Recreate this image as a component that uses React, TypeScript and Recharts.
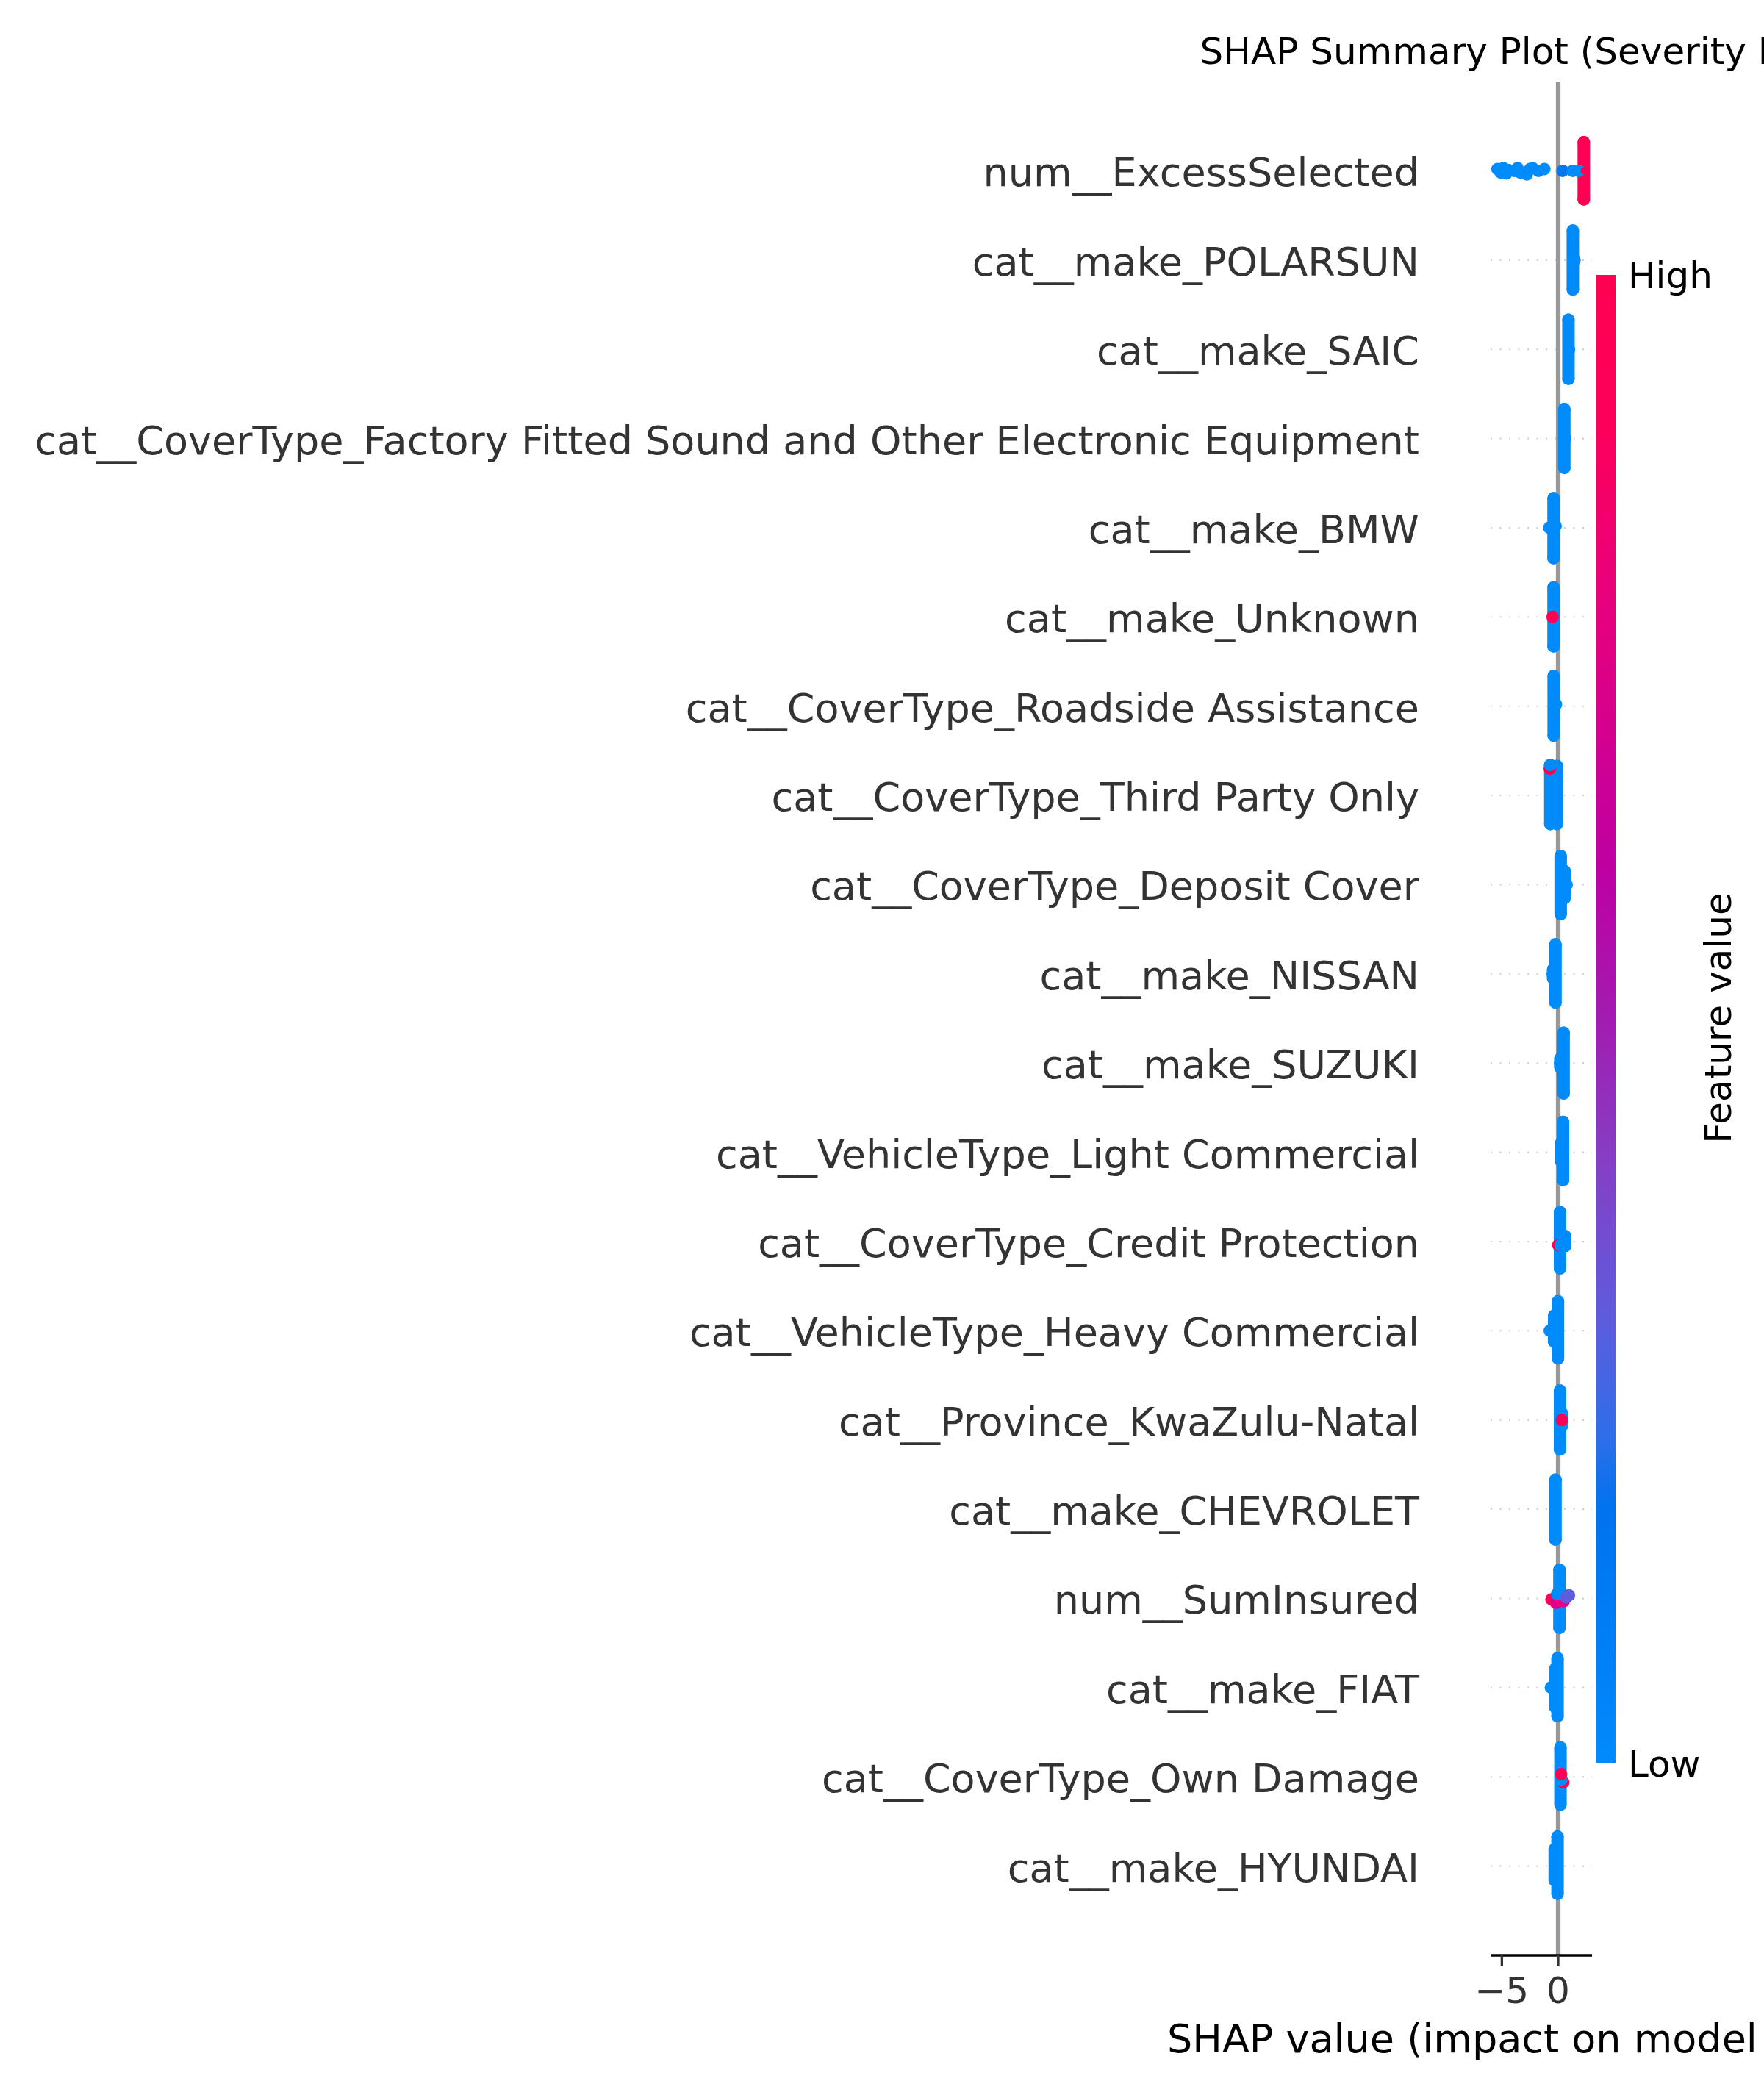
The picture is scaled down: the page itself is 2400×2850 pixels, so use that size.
import React from "react";
import { ScatterChart, Scatter, XAxis, YAxis, ReferenceLine, ErrorBar } from "recharts";

const features = [
  "num__ExcessSelected",
  "cat__make_POLARSUN",
  "cat__make_SAIC",
  "cat__CoverType_Factory Fitted Sound and Other Electronic Equipment",
  "cat__make_BMW",
  "cat__make_Unknown",
  "cat__CoverType_Roadside Assistance",
  "cat__CoverType_Third Party Only",
  "cat__CoverType_Deposit Cover",
  "cat__make_NISSAN",
  "cat__make_SUZUKI",
  "cat__VehicleType_Light Commercial",
  "cat__CoverType_Credit Protection",
  "cat__VehicleType_Heavy Commercial",
  "cat__Province_KwaZulu-Natal",
  "cat__make_CHEVROLET",
  "num__SumInsured",
  "cat__make_FIAT",
  "cat__CoverType_Own Damage",
  "cat__make_HYUNDAI",
];

const xTicks = [-5, 0];

// piled-up swarms: [feature, shap value, spread below, spread above] (spread in rows)
const lowStacks: [string, number, number, number][] = [
  ["cat__make_POLARSUN", 1.3, 0.33, 0.33],
  ["cat__make_SAIC", 0.91, 0.33, 0.33],
  ["cat__CoverType_Factory Fitted Sound and Other Electronic Equipment", 0.54, 0.33, 0.33],
  ["cat__make_BMW", -0.41, 0.34, 0.33],
  ["cat__make_Unknown", -0.41, 0.33, 0.33],
  ["cat__CoverType_Roadside Assistance", -0.4, 0.33, 0.34],
  ["cat__CoverType_Third Party Only", -0.7, 0.32, 0.34],
  ["cat__CoverType_Third Party Only", -0.12, 0.32, 0.33],
  ["cat__CoverType_Deposit Cover", 0.22, 0.33, 0.32],
  ["cat__CoverType_Deposit Cover", 0.57, 0.15, 0.15],
  ["cat__make_NISSAN", -0.24, 0.32, 0.33],
  ["cat__make_NISSAN", -0.45, 0.05, 0.05],
  ["cat__make_SUZUKI", 0.48, 0.34, 0.34],
  ["cat__make_SUZUKI", 0.2, 0.05, 0.05],
  ["cat__VehicleType_Light Commercial", 0.43, 0.31, 0.34],
  ["cat__VehicleType_Light Commercial", 0.25, 0.1, 0.1],
  ["cat__CoverType_Credit Protection", 0.16, 0.3, 0.33],
  ["cat__CoverType_Credit Protection", 0.62, 0.05, 0.06],
  ["cat__VehicleType_Heavy Commercial", -0.02, 0.31, 0.33],
  ["cat__VehicleType_Heavy Commercial", -0.36, 0.12, 0.17],
  ["cat__Province_KwaZulu-Natal", 0.16, 0.33, 0.33],
  ["cat__Province_KwaZulu-Natal", 0.3, 0.07, 0.08],
  ["cat__make_CHEVROLET", -0.24, 0.34, 0.33],
  ["num__SumInsured", 0.11, 0.33, 0.32],
  ["cat__make_FIAT", -0.06, 0.32, 0.33],
  ["cat__make_FIAT", -0.25, 0.22, 0.21],
  ["cat__CoverType_Own Damage", 0.2, 0.31, 0.33],
  ["cat__make_HYUNDAI", -0.06, 0.31, 0.33],
  ["cat__make_HYUNDAI", -0.31, 0.16, 0.19],
];

const highStacks: [string, number, number, number][] = [
  ["num__ExcessSelected", 2.27, 0.32, 0.32],
];

// single points: [feature, shap value, vertical jitter, feature value 0..1]
const points: [string, number, number, number][] = [
  ["num__ExcessSelected", -5.39, 0.02, 0],
  ["num__ExcessSelected", -5.1, -0.02, 0],
  ["num__ExcessSelected", -4.87, 0.03, 0],
  ["num__ExcessSelected", -4.6, -0.03, 0],
  ["num__ExcessSelected", -4.42, 0.01, 0],
  ["num__ExcessSelected", -3.9, 0.0, 0],
  ["num__ExcessSelected", -3.6, 0.03, 0],
  ["num__ExcessSelected", -3.38, -0.02, 0],
  ["num__ExcessSelected", -2.79, -0.04, 0],
  ["num__ExcessSelected", -2.5, 0.02, 0],
  ["num__ExcessSelected", -2.27, 0.03, 0],
  ["num__ExcessSelected", -1.75, 0.0, 0],
  ["num__ExcessSelected", -1.23, 0.02, 0],
  ["num__ExcessSelected", 0.39, 0.0, 0.15],
  ["num__ExcessSelected", 1.3, 0.0, 0],
  ["num__ExcessSelected", 1.82, 0.0, 0],
  ["cat__make_POLARSUN", 1.45, 0.0, 0],
  ["cat__make_SAIC", 0.95, 0.0, 0],
  ["cat__CoverType_Factory Fitted Sound and Other Electronic Equipment", 0.6, 0.0, 0],
  ["cat__make_BMW", -0.79, 0.0, 0],
  ["cat__make_BMW", -0.23, 0.02, 0],
  ["cat__make_Unknown", -0.5, 0.0, 1],
  ["cat__CoverType_Roadside Assistance", -0.2, 0.02, 0],
  ["cat__CoverType_Third Party Only", -0.75, 0.3, 1],
  ["cat__CoverType_Third Party Only", -0.72, 0.34, 0],
  ["cat__CoverType_Deposit Cover", 0.75, 0.0, 0],
  ["cat__make_NISSAN", -0.49, 0.0, 0],
  ["cat__make_SUZUKI", 0.16, 0.0, 0],
  ["cat__CoverType_Credit Protection", 0.0, -0.04, 1],
  ["cat__CoverType_Credit Protection", 0.2, -0.04, 0],
  ["cat__VehicleType_Heavy Commercial", -0.75, 0.0, 0],
  ["cat__Province_KwaZulu-Natal", 0.32, 0.0, 1],
  ["num__SumInsured", -0.6, -0.01, 1],
  ["num__SumInsured", -0.2, -0.05, 0.75],
  ["num__SumInsured", 0.5, -0.03, 0.75],
  ["num__SumInsured", -0.1, 0.05, 0],
  ["num__SumInsured", 0.71, 0.01, 0.3],
  ["num__SumInsured", 0.95, 0.035, 0.3],
  ["cat__make_FIAT", -0.65, 0.0, 0],
  ["cat__CoverType_Own Damage", 0.45, -0.06, 1],
  ["cat__CoverType_Own Damage", 0.28, -0.03, 0],
  ["cat__CoverType_Own Damage", 0.26, 0.03, 1],
];

// shap red_blue colour map, low -> high
const cmap: [number, string][] = [
  [0, "#008bfb"],
  [0.1, "#007cf4"],
  [0.17, "#0073ee"],
  [0.22, "#2f6ee8"],
  [0.3, "#5e5cdc"],
  [0.4, "#8440c6"],
  [0.5, "#a21cb0"],
  [0.6, "#be00a2"],
  [0.7, "#d6008e"],
  [0.8, "#ec0078"],
  [0.9, "#fd005a"],
  [1, "#ff0052"],
];

const hex = (c: string) => [1, 3, 5].map((i) => parseInt(c.slice(i, i + 2), 16));

function shapColor(v: number) {
  for (let i = 1; i < cmap.length; i++) {
    const [v0, c0] = cmap[i - 1];
    const [v1, c1] = cmap[i];
    if (v <= v1) {
      const t = (v - v0) / (v1 - v0);
      const a = hex(c0);
      const b = hex(c1);
      const m = a.map((x, k) => Math.round(x + (b[k] - x) * t));
      return `rgb(${m[0]},${m[1]},${m[2]})`;
    }
  }
  return cmap[cmap.length - 1][1];
}

const rowY = (f: string) => features.length - 1 - features.indexOf(f);
const stackRows = (rows: [string, number, number, number][]) =>
  rows.map(([f, x, down, up]) => ({ x, y: rowY(f), err: [down, up] }));

const lowData = stackRows(lowStacks);
const highData = stackRows(highStacks);
const pointData = points.map(([f, x, j, v]) => ({ x, y: rowY(f) + j, v }));

const BLUE = shapColor(0);
const RED = shapColor(1);
const yTicks = features.map((_, i) => i);

const FeatureTick = ({ x, y, payload }: any) => (
  <text x={x} y={y} dy={21} textAnchor="end" fontSize={54} fill="#333333">
    {features[features.length - 1 - payload.value]}
  </text>
);

const Dot = (p: any) => <circle cx={p.cx} cy={p.cy} r={8.5} fill={shapColor(p.payload.v)} />;

export default function App() {
  return (
    <div
      style={{
        position: "absolute",
        left: 0,
        top: 0,
        width: 2400,
        height: 2850,
        overflow: "hidden",
        background: "#fff",
        fontFamily: "'DejaVu Sans', sans-serif",
      }}
    >
      <style>{`.recharts-errorBar line { stroke-linecap: round; }`}</style>
      <ScatterChart width={2400} height={2850} margin={{ top: 111, right: 234, bottom: 120, left: 1928 }}>
        <XAxis
          type="number"
          dataKey="x"
          domain={[-6, 3]}
          ticks={xTicks}
          interval={0}
          allowDataOverflow
          height={70}
          axisLine={{ stroke: "#000", strokeWidth: 3.3 }}
          tickLine={{ stroke: "#333333", strokeWidth: 3.3 }}
          tickSize={14.6}
          tickMargin={15}
          tick={{ fontSize: 50, fill: "#333333" }}
          tickFormatter={(v: number) => (v < 0 ? "\u2212" + Math.abs(v) : String(v))}
        />
        <YAxis
          type="number"
          dataKey="y"
          domain={[-1, features.length]}
          ticks={yTicks}
          interval={0}
          allowDataOverflow
          width={100}
          axisLine={false}
          tickLine={false}
          tickSize={0}
          tickMargin={97}
          tick={<FeatureTick />}
        />
        {yTicks.map((t) => (
          <ReferenceLine key={t} y={t} stroke="#cccccc" strokeWidth={2} strokeDasharray="2 10.5" />
        ))}
        <ReferenceLine x={0} stroke="#999999" strokeWidth={6.25} />
        <Scatter data={lowData} fill={BLUE} isAnimationActive={false}>
          <ErrorBar
            dataKey="err"
            direction="y"
            width={0}
            stroke={BLUE}
            strokeWidth={17}
            strokeLinecap="round"
            isAnimationActive={false}
          />
        </Scatter>
        <Scatter data={pointData} shape={<Dot />} isAnimationActive={false} />
        <Scatter data={highData} fill={RED} isAnimationActive={false}>
          <ErrorBar
            dataKey="err"
            direction="y"
            width={0}
            stroke={RED}
            strokeWidth={17}
            strokeLinecap="round"
            isAnimationActive={false}
          />
        </Scatter>
      </ScatterChart>
      <svg width={2400} height={2850} style={{ position: "absolute", left: 0, top: 0, pointerEvents: "none" }}>
        <defs>
          <linearGradient id="featureValueBar" x1="0" y1="0" x2="0" y2="1">
            {cmap
              .map(([v, c]) => <stop key={v} offset={1 - v} stopColor={c} />)
              .reverse()}
          </linearGradient>
        </defs>
        <text x={2097} y={87} fontSize={50} fill="#000" textAnchor="middle">
          SHAP Summary Plot (Severity Model)
        </text>
        <text x={1588} y={2792} fontSize={54} fill="#000">
          SHAP value (impact on model output)
        </text>
        <rect x={2172} y={374} width={26} height={2024} fill="url(#featureValueBar)" />
        <text x={2215} y={392} fontSize={50} fill="#000">
          High
        </text>
        <text x={2215} y={2417} fontSize={50} fill="#000">
          Low
        </text>
        <text transform="translate(2355,1385) rotate(-90)" textAnchor="middle" fontSize={50} fill="#000">
          Feature value
        </text>
      </svg>
    </div>
  );
}
